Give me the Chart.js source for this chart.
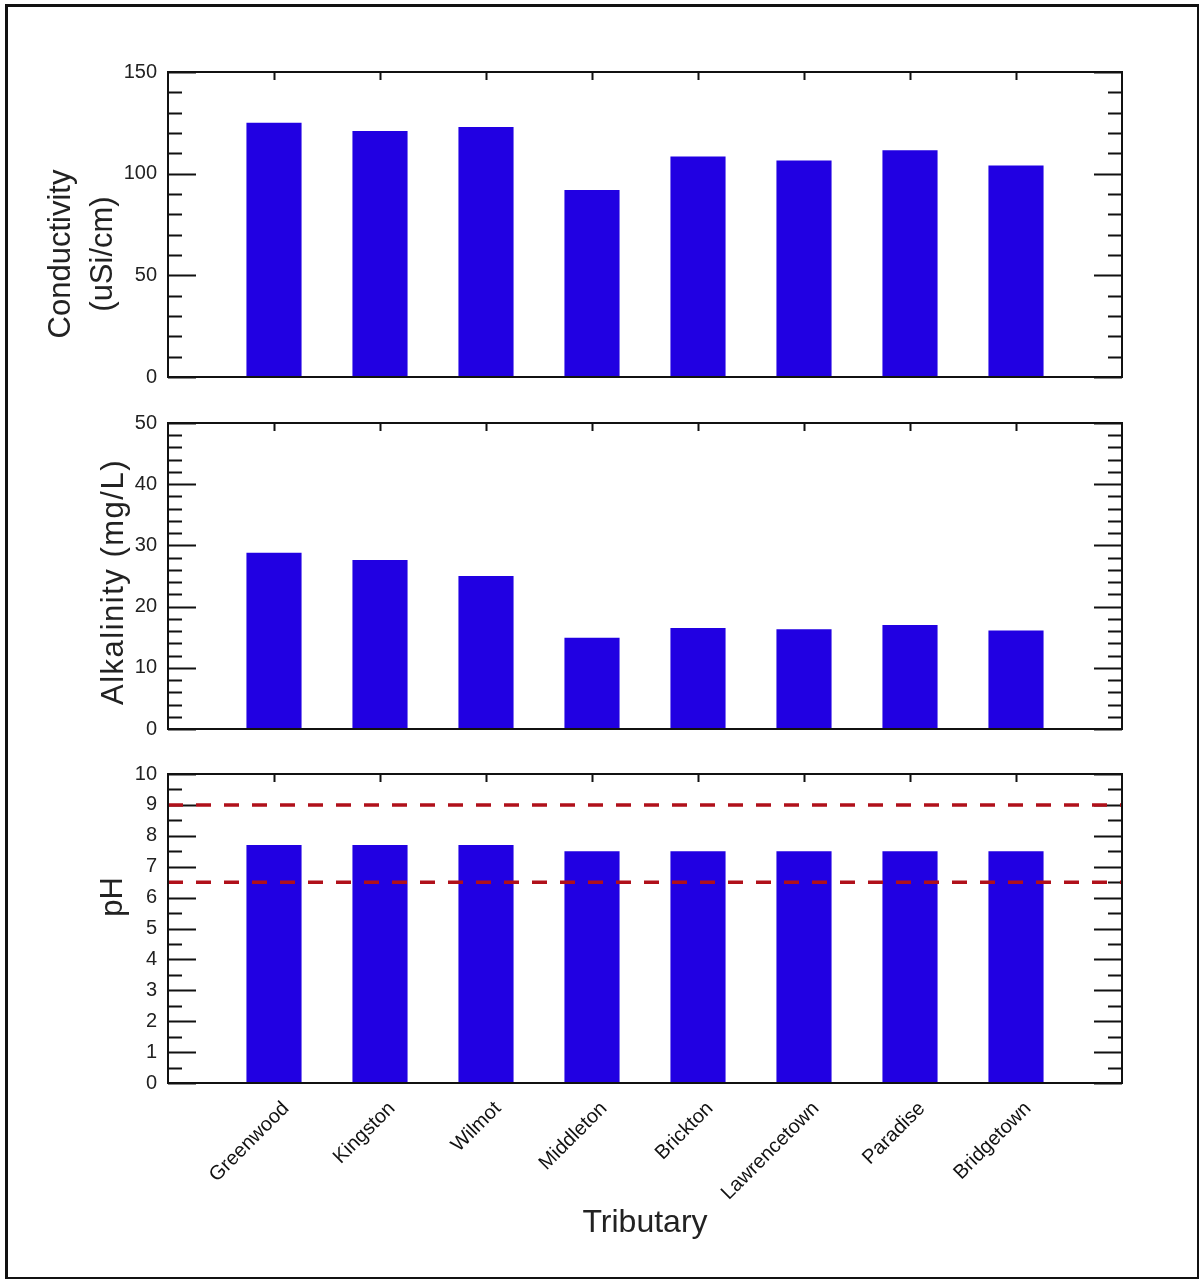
<!DOCTYPE html>
<html>
<head>
<meta charset="utf-8">
<script src="https://cdn.jsdelivr.net/npm/chart.js@4"></script>
<style>
  body { margin: 0; background: #fff; }
  #page { position: relative; width: 1201px; height: 1280px; overflow: hidden; }
  #frame { position: absolute; left: 5px; top: 4px; width: 1194px; height: 1275px; box-sizing: border-box;
           border-style: solid; border-color: #111; border-width: 3px 2px 2px 3px; }
  canvas { position: absolute; left: 0; }
  .ytitle { position: absolute; font: 31px 'Liberation Sans', Arial, sans-serif; color: #222;
            white-space: nowrap; transform: translate(-50%, -50%) rotate(-90deg); }
</style>
</head>
<body>
<div id="page">
  <div id="frame"></div>
  <canvas id="condChart" width="1201" height="351" style="top:49px"></canvas>
  <canvas id="alkChart" width="1201" height="352" style="top:400px"></canvas>
  <canvas id="phChart" width="1201" height="491" style="top:751px"></canvas>
  <div class="ytitle" style="left:60px; top:254px">Conductivity</div>
  <div class="ytitle" style="left:102px; top:254px">(uSi/cm)</div>
  <div class="ytitle" style="left:113px; top:582px; letter-spacing:1.5px">Alkalinity (mg/L)</div>
  <div class="ytitle" style="left:112px; top:897px">pH</div>
</div>
<script>
// données
const tributaries = ['Greenwood', 'Kingston', 'Wilmot', 'Middleton', 'Brickton', 'Lawrencetown', 'Paradise', 'Bridgetown'];
const conductivity = [125, 121, 123, 92, 108.5, 106.5, 111.5, 104];
const alkalinity = [28.8, 27.6, 25.0, 14.9, 16.5, 16.3, 17.0, 16.1];
const pH = [7.7, 7.7, 7.7, 7.5, 7.5, 7.5, 7.5, 7.5];
const pHLimits = [9, 6.5];

const condTicks = [0, 50, 100, 150];
const alkTicks = [0, 10, 20, 30, 40, 50];
const pHTicks = [0, 1, 2, 3, 4, 5, 6, 7, 8, 9, 10];

const BAR_COLOR = '#2100e2';
const LIMIT_COLOR = '#b0101a';
const FONT = "'Liberation Sans', Arial, sans-serif";

// une catégorie vide de chaque côté pour que l'axe aille de 0 à 9
const labels = ['', ...tributaries, ''];
const pad = arr => [null, ...arr, null];

// cadre noir + graduations tournées vers l'intérieur
const framePlugin = {
    id: 'frame',
    beforeDatasetsDraw(chart, args, opts) {
        const {ctx, chartArea: a, scales} = chart;
        const y = scales.y, x = scales.x;
        ctx.save();
        ctx.strokeStyle = '#111';
        ctx.lineWidth = 2;
        ctx.beginPath();
        for (let v = y.min; v <= y.max + 1e-9; v += opts.minor) {
            const major = opts.major.some(m => Math.abs(m - v) < 1e-6);
            const len = major ? 28 : 14;
            const py = Math.round(y.getPixelForValue(v)) + 0.5;
            ctx.moveTo(a.left, py); ctx.lineTo(a.left + len, py);
            ctx.moveTo(a.right, py); ctx.lineTo(a.right - len, py);
        }
        for (let i = 1; i <= tributaries.length; i++) {
            const px = Math.round(x.getPixelForValue(i)) + 0.5;
            ctx.moveTo(px, a.top); ctx.lineTo(px, a.top + 8);
            ctx.moveTo(px, a.bottom); ctx.lineTo(px, a.bottom - 8);
        }
        ctx.stroke();
        ctx.restore();
    },
    afterDraw(chart) {
        const {ctx, chartArea: a} = chart;
        ctx.save();
        ctx.strokeStyle = '#111';
        ctx.lineWidth = 2;
        ctx.strokeRect(a.left, a.top, a.right - a.left, a.bottom - a.top);
        ctx.restore();
    }
};

function makePanel(id, values, ticks, minor, extra, showX) {
    const datasets = [{
        type: 'bar',
        data: pad(values),
        backgroundColor: BAR_COLOR,
        borderWidth: 0,
        barPercentage: 0.52,
        categoryPercentage: 1,
        order: 2
    }];
    (extra || []).forEach(v => {
        datasets.push({
            type: 'line',
            data: labels.map(() => v),
            borderColor: LIMIT_COLOR,
            borderWidth: 3.5,
            borderDash: [15, 13],
            pointRadius: 0,
            fill: false,
            order: 0
        });
    });

    return new Chart(document.getElementById(id), {
        type: 'bar',
        data: { labels: labels, datasets: datasets },
        options: {
            responsive: false,
            animation: false,
            layout: { padding: { top: 20, right: 79, bottom: showX ? 0 : 20, left: 0 } },
            plugins: {
                legend: { display: false },
                tooltip: { enabled: false },
                frame: { major: ticks, minor: minor }
            },
            scales: {
                x: {
                    display: showX,
                    offset: false,
                    grid: { display: false, drawTicks: false, offset: false },
                    border: { display: false },
                    ticks: {
                        autoSkip: false,
                        minRotation: 45,
                        maxRotation: 45,
                        padding: 14,
                        labelOffset: 12,
                        color: '#111',
                        font: { family: FONT, size: 20 }
                    },
                    title: {
                        display: showX,
                        text: 'Tributary',
                        color: '#222',
                        padding: 0,
                        font: { family: FONT, size: 32 }
                    },
                    afterFit: s => { if (showX) s.height = 159; }
                },
                y: {
                    min: ticks[0],
                    max: ticks[ticks.length - 1],
                    grid: { display: false, drawTicks: false },
                    border: { display: false },
                    afterBuildTicks: s => { s.ticks = ticks.map(v => ({ value: v })); },
                    ticks: {
                        padding: 11,
                        color: '#222',
                        font: { family: FONT, size: 20 }
                    },
                    afterFit: s => { s.width = 168; }
                }
            }
        },
        plugins: [framePlugin]
    });
}

makePanel('condChart', conductivity, condTicks, 10, null, false);
makePanel('alkChart', alkalinity, alkTicks, 2, null, false);
makePanel('phChart', pH, pHTicks, 0.5, pHLimits, true);
</script>
</body>
</html>
